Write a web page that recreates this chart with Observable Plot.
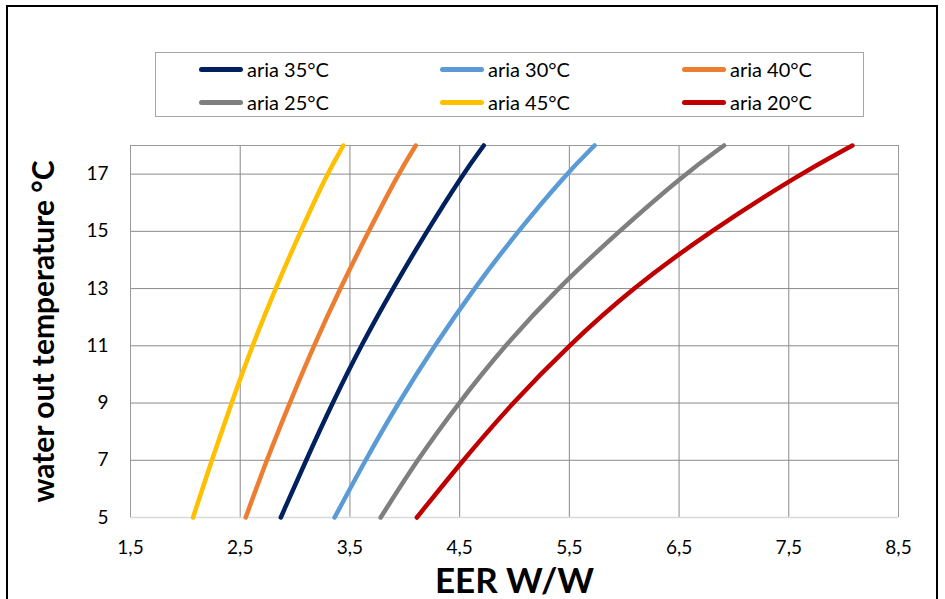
<!DOCTYPE html>
<html>
<head>
<meta charset="utf-8">
<script src="https://cdn.jsdelivr.net/npm/d3@7"></script>
<script src="https://cdn.jsdelivr.net/npm/@observablehq/plot@0.6"></script>
<style>
  html, body { margin: 0; padding: 0; background: #fff; }
  #wrap { position: relative; width: 945px; height: 599px; overflow: hidden; font-family: Lato, "Open Sans", sans-serif; }
  #border { position: absolute; left: 6px; top: 5px; width: 932px; height: 620px; border: 2px solid #000; box-sizing: border-box; pointer-events: none; }
  #legend { position: absolute; left: 155px; top: 52px; width: 709px; height: 65px; border: 1px solid #a6a6a6; box-sizing: border-box; background: #fff; z-index: 2; }
  .item { position: absolute; display: flex; align-items: center; font-size: 20px; color: #000; height: 24px; }
  .sw { width: 44px; height: 5px; border-radius: 3px; margin-right: 4px; }
  #chart { position: absolute; left: 0; top: 0; }
</style>
</head>
<body>
<div id="wrap">
  <div id="chart"></div>
  <div id="legend"></div>
  <div id="border"></div>
</div>
<script>
// water out temperature (°C) sample levels
const waterTemps = [5, 7, 9, 11, 13, 15, 17, 18];
// legend order and colours
const series = ["aria 35°C", "aria 30°C", "aria 40°C", "aria 25°C", "aria 45°C", "aria 20°C"];
const colors = ["#002060", "#5b9bd5", "#ed7d31", "#7f7f7f", "#ffc000", "#c00000"];
// EER values per air temperature series
const eer45 = [2.07, 2.24, 2.42, 2.61, 2.82, 3.05, 3.29, 3.44];
const eer40 = [2.55, 2.74, 2.95, 3.17, 3.41, 3.67, 3.94, 4.10];
const eer35 = [2.87, 3.10, 3.34, 3.60, 3.89, 4.20, 4.53, 4.72];
const eer30 = [3.36, 3.64, 3.94, 4.27, 4.63, 5.03, 5.47, 5.73];
const eer25 = [3.78, 4.11, 4.49, 4.91, 5.39, 5.95, 6.55, 6.91];
const eer20 = [4.11, 4.53, 4.98, 5.49, 6.07, 6.78, 7.60, 8.08];
const xTicks = [1.5, 2.5, 3.5, 4.5, 5.5, 6.5, 7.5, 8.5];
const yTicks = [5, 7, 9, 11, 13, 15, 17];

const valuesBySeries = {
  "aria 35°C": eer35, "aria 30°C": eer30, "aria 40°C": eer40,
  "aria 25°C": eer25, "aria 45°C": eer45, "aria 20°C": eer20
};
const drawOrder = ["aria 45°C", "aria 40°C", "aria 35°C", "aria 30°C", "aria 25°C", "aria 20°C"];
const rows = [];
for (const s of drawOrder) {
  valuesBySeries[s].forEach((v, i) => rows.push({series: s, eer: v, t: waterTemps[i]}));
}

// legend
const legend = document.getElementById("legend");
const colX = [43, 284, 526];
const rowY = [4, 37];
series.forEach((s, i) => {
  const d = document.createElement("div");
  d.className = "item";
  d.style.left = colX[i % 3] + "px";
  d.style.top = rowY[Math.floor(i / 3)] + "px";
  const sw = document.createElement("div");
  sw.className = "sw";
  sw.style.background = colors[i];
  const tx = document.createElement("span");
  tx.textContent = s;
  d.appendChild(sw); d.appendChild(tx);
  legend.appendChild(d);
});

const fmt = d => d.toFixed(1).replace(".", ",");

const plot = Plot.plot({
  width: 945,
  height: 599,
  marginLeft: 130,
  marginRight: 47,
  marginTop: 145,
  marginBottom: 82,
  style: { fontFamily: "Lato, 'Open Sans', sans-serif", color: "#000", background: "transparent", overflow: "visible" },
  x: { domain: [1.5, 8.5], axis: null },
  y: { domain: [5, 18], axis: null },
  color: { domain: series, range: colors },
  marks: [
    Plot.gridX(xTicks.slice(1, -1), { stroke: "#8a8a8a", strokeOpacity: 1 }),
    Plot.gridY(yTicks.slice(1), { stroke: "#8a8a8a", strokeOpacity: 1 }),
    Plot.ruleX([xTicks[0], xTicks[xTicks.length - 1]], { stroke: "#9a9a9a" }),
    Plot.ruleY([18], { stroke: "#9a9a9a" }),
    Plot.ruleY([5], { stroke: "#d9d9d9", strokeWidth: 1.5 }),
    // tick labels
    Plot.text(xTicks, { x: d => d, frameAnchor: "bottom", dy: 30, text: fmt, fontSize: 19, lineAnchor: "middle", fill: "#000" }),
    Plot.text(yTicks, { y: d => d, frameAnchor: "left", dx: -22, textAnchor: "end", text: d => String(d), fontSize: 19, fill: "#000" }),
    Plot.line(rows, { x: "eer", y: "t", z: "series", stroke: "series", strokeWidth: 4.5, curve: "basis" }),
    Plot.text(["EER W/W"], { frameAnchor: "bottom", dy: 64, text: d => d, fontSize: 35, fontWeight: "bold", lineAnchor: "middle", fill: "#000" }),
    Plot.text(["water out temperature °C"], { frameAnchor: "left", textAnchor: "middle", dx: -86, rotate: -90, text: d => d, fontSize: 30, fontWeight: "bold", fill: "#000" })
  ]
});
document.getElementById("chart").appendChild(plot);
</script>
</body>
</html>
